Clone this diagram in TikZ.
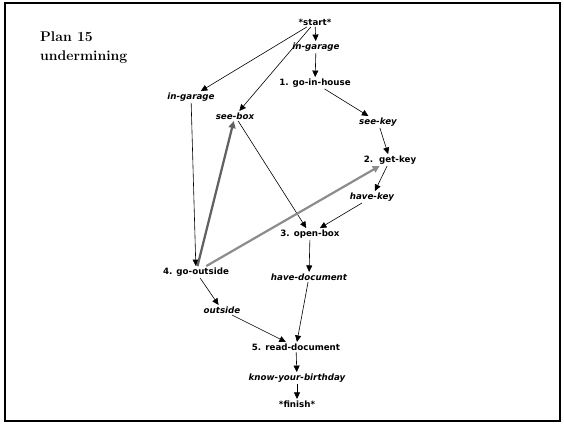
\documentclass[tikz,border=0pt]{standalone}
\usepackage{fontspec}
\setmainfont{Latin Modern Roman}
\newfontfamily\lblfont{DejaVu Sans}
\usetikzlibrary{arrows.meta}
\tikzset{
  act/.style={font=\lblfont\bfseries\fontsize{8.7}{10}\selectfont, inner sep=1.5pt, text=black},
  cond/.style={font=\lblfont\bfseries\itshape\fontsize{8.7}{10}\selectfont, inner sep=1.5pt, text=black},
  arr/.style={-{Triangle[length=6.5pt,width=6pt]}, line width=0.6pt, black},
  grayarr/.style={-{Triangle[length=7pt,width=7pt]}, line width=2.2pt},
}
\begin{document}
\begin{tikzpicture}[x=1pt,y=-1pt]
\useasboundingbox (0,0) rectangle (564,424);
\draw[line width=1.6pt] (5,3) rectangle (560,421);
\node[anchor=west, align=left, font=\fontsize{14}{19}\selectfont\bfseries, inner sep=0pt] (title) at (40,48) {Plan 15\\undermining};
\node[act] (start) at (315,22) {*start*};
\node[cond] (ig1) at (316,47) {in-garage};
\node[act] (gih) at (315,83) {1. go-in-house};
\node[cond] (ig2) at (191,97) {in-garage};
\node[cond] (sb) at (235,116) {see-box};
\node[cond] (sk) at (378,122) {see-key};
\node[act] (gk) at (390,160) {2.\ \ get-key};
\node[cond] (hk) at (372,197) {have-key};
\node[act] (ob) at (310,234) {3. open-box};
\node[act] (go) at (196,272) {4. go-outside};
\node[cond] (hd) at (309,277) {have-document};
\node[cond] (os) at (222,310) {outside};
\node[act] (rd) at (296,347) {5. read-document};
\node[cond] (kb) at (297,378) {know-your-birthday};
\node[act] (fin) at (297,404) {*finish*};
\draw[arr] (start) -- (ig1);
\draw[arr] (ig1) -- (gih);
\draw[arr] (start) -- (ig2);
\draw[arr] (start) -- (sb);
\draw[arr] (gih) -- (sk);
\draw[arr] (sk) -- (gk);
\draw[arr] (gk) -- (hk);
\draw[arr] (hk) -- (ob);
\draw[arr] (sb) -- (ob);
\draw[arr] (ig2) -- (go);
\draw[arr] (ob) -- (hd);
\draw[arr] (go) -- (os);
\draw[arr] (os) -- (rd);
\draw[arr] (hd) -- (rd);
\draw[arr] (rd) -- (kb);
\draw[arr] (kb) -- (fin);
\draw[grayarr, draw=black!62, fill=black!62] (go) -- (sb);
\draw[grayarr, draw=black!45, fill=black!45] (go) -- (gk);
\end{tikzpicture}
\end{document}
